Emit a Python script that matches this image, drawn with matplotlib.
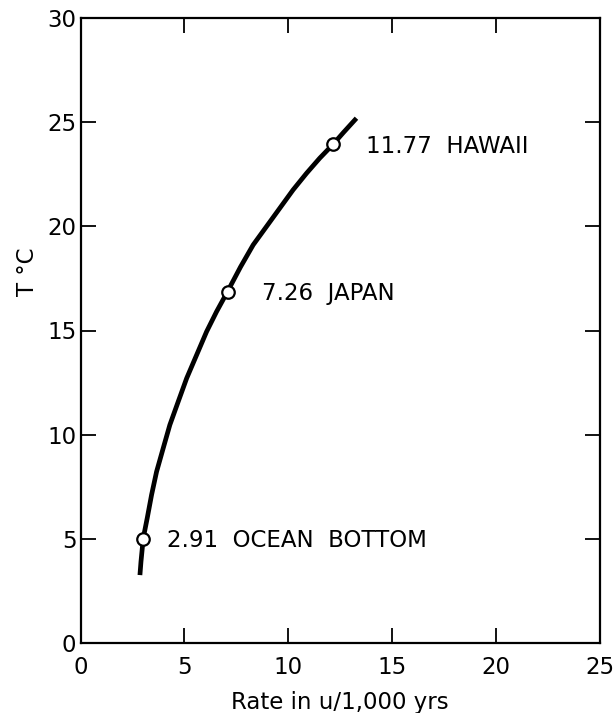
import matplotlib
matplotlib.use("Agg")
import matplotlib.pyplot as plt

# Curve (rate, temperature)
curve_rate = [2.86, 2.91, 3.02, 3.21, 3.42, 3.66, 3.98, 4.30, 4.70, 5.11, 5.59, 6.07,
              6.55, 7.06, 7.70, 8.31, 8.95, 9.59, 10.23, 10.88, 11.51, 12.13, 12.65, 13.28]
curve_temp = [3.26, 3.90, 5.03, 5.99, 7.11, 8.22, 9.35, 10.47, 11.58, 12.71, 13.83, 14.95,
              15.91, 16.84, 18.05, 19.11, 19.99, 20.87, 21.75, 22.55, 23.27, 23.91, 24.50, 25.19]

# Marked sites
site_rate = [3.02, 7.08, 12.13]
site_temp = [5.00, 16.86, 23.95]
site_labels = ["2.91  OCEAN  BOTTOM", "7.26  JAPAN", "11.77  HAWAII"]
label_offsets = [17, 24.5, 24]

x_ticks = [0, 5, 10, 15, 20, 25]
y_ticks = [0, 5, 10, 15, 20, 25, 30]

plt.rcParams['font.family'] = ['DejaVu Sans']

fig = plt.figure(figsize=(6.15, 7.13), dpi=100)
ax = fig.add_axes([80.5/615, 1-643/713, (600-80.5)/615, (643-18)/713])

ax.plot(curve_rate, curve_temp, color='black', lw=3.4, solid_capstyle='butt',
        solid_joinstyle='round', zorder=2)
ax.plot(site_rate, site_temp, 'o', ms=9, mfc='white', mec='black', mew=1.6, zorder=3)

for r, t, lab, off in zip(site_rate, site_temp, site_labels, label_offsets):
    ax.annotate(lab, (r, t), xytext=(off, -1.5), textcoords='offset points',
                ha='left', va='center', fontsize=16.5)

ax.set_xlim(0, 25)
ax.set_ylim(0, 30)
ax.set_xticks(x_ticks)
ax.set_yticks(y_ticks)
ax.tick_params(direction='in', length=11, width=1.3, labelsize=16.5,
               top=True, right=True)
ax.tick_params(axis='x', pad=9)
ax.tick_params(axis='y', pad=3)
for s in ax.spines.values():
    s.set_linewidth(1.6)

ax.set_xlabel("Rate in u/1,000 yrs", fontsize=16.5)
ax.xaxis.set_label_coords(0.5, -0.077)
ax.set_ylabel("T °C", fontsize=16.5)
ax.yaxis.set_label_coords(-0.079, 0.594)

fig.savefig("out.png", dpi=100)
